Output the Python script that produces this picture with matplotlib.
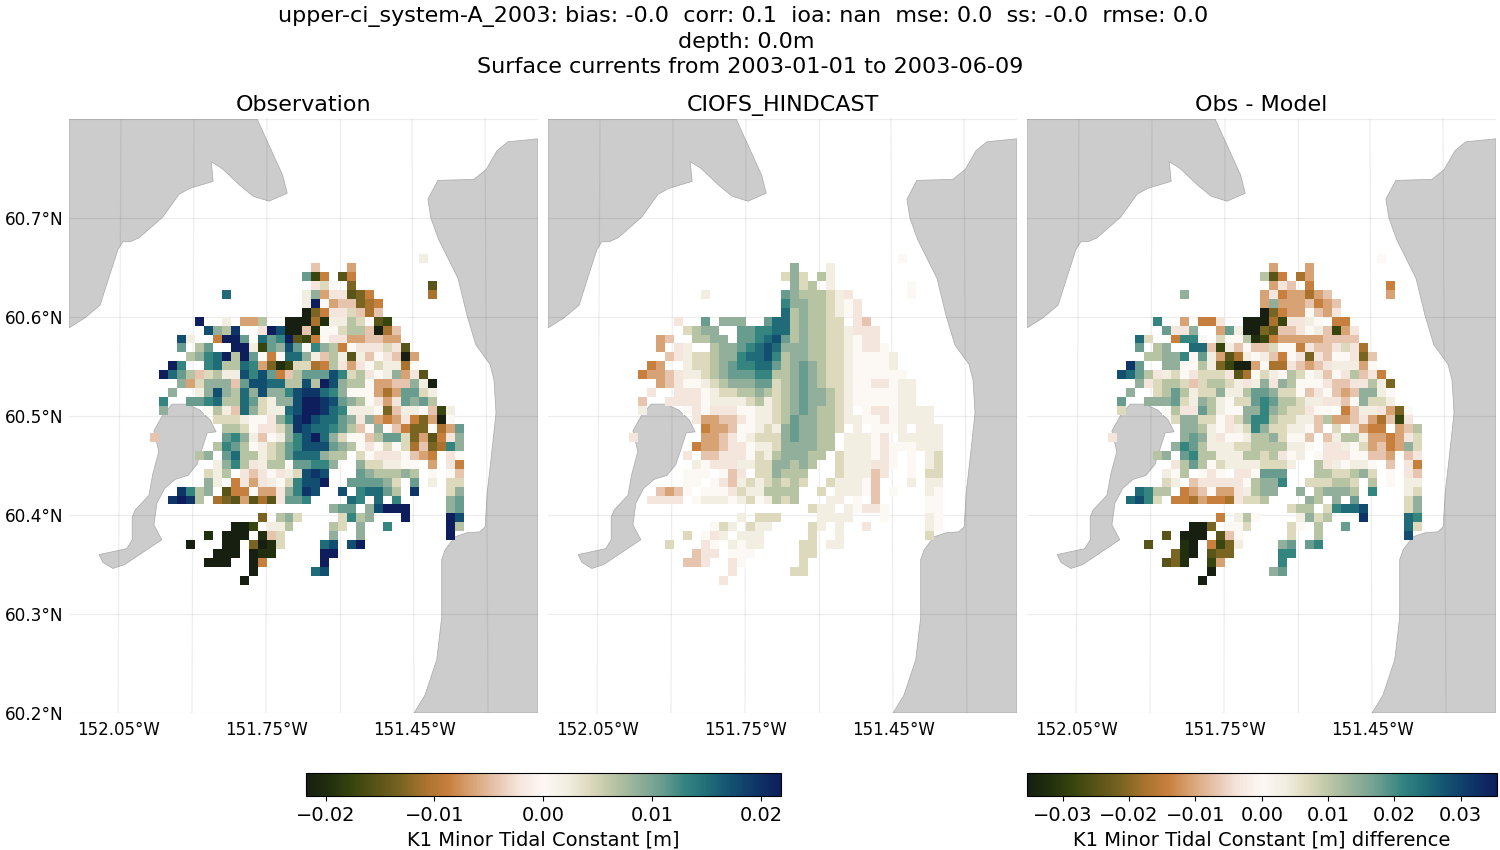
import numpy as np
import matplotlib
matplotlib.use("Agg")
import matplotlib.pyplot as plt
from matplotlib.colors import LinearSegmentedColormap

# grid values, one string per row from north to south: "first column:codes"
# A..J = -10..-1, 0 = 0, a..j = +1..+10 (tenths of the colour limit), . = no data
obs_rows = [
    "30:a", "18:I...H", "17:eCG.DG", "18:Jb0.E........D",
    "8:g........adHJJDEG......F", "17:aj0HIIEFG", "17:AEGJJbIFI",
    "5:j..a.HHc..AAAFBaacb0DC", "6:hdci..JjhAAIB00bccIAFI",
    "3:ha..Gjje.gefjDCG0JJHHIIHH", "3:e.ce..jjaCedhe0fdcG0JJJbJD",
    "4:cdfgjcje0G0ggdaIcaDaI0JIAH", "2:jf..fgccgfHEBCbbFGcJHJ0baaF0",
    "1:jgecIbcaahfheGIceeehfbcJ0adHJD", "3:dHbdddIehhggcchcjhdcc0HHIIdaA",
    "2:d..adhdcgdhddfhiigfd000HFHeeba", "1:f..eefgccgebaddhjjihedc0JHJedec",
    "1:d....0caIgdbaaghjjigfaaa0EIaa0ICa", "7:bbba00JdfijhggedJdHGHJGEHA0",
    "8:ccb0JJbdihggfecI0d0IGEE0FHe", "0:I.......efdaI0adfhjgdb00IceebEHDGJd",
    "7:cfec0abcefhhhedc0J0b0bFIEFfd", "5:cd.egccabcegggdcc.b0JJJ0IHG.J0",
    "7:adfcJacc0eeffd..dbbaa00.H.JG", "6:bac.JIJ0Jabhih...edcccdc.0.0I",
    "6:da.GJHJa0bfhhj..eeeedb.e.a.bb", "3:ifcd.DGG0HHJdfih..h.fggec.i...bd",
    "2:ijic.FEDHDFDJeef....gf0g.f.....de", "20:dee.dhjjj....de",
    "12:E.cdb....bfcd...j....jh", "9:AAC.aac....cb.d..f......jc",
    "6:B.AAA.BIb.....d..d.........j", "4:A...AA.EABb....gh.hj",
    "7:AAA.ABB.....jj", "6:AAA..AG......j", "11:A......gh", "10:A",
]
model_rows = [
    "30:0", "18:d...a", "17:bdb.ca", "18:dbc.a........0",
    "8:a........edcccbaJ......0", "17:fddccba0J", "17:gcdccba0J",
    "5:J..e.ddd..eggcdccbb.JI", "6:bcdd..eeffggcdccbbaJJJ",
    "3:HI..ccdd.eefghecdccbba0JJ", "3:H.Ja..cddefghgdddccbba0JJ0",
    "4:IJabbcddfgghfcddccbba0000a", "2:GH..abbcdeffggecdedcbba0000a",
    "1:GHHIJaabcdeeeffccdedcbba000000", "3:HIJ00abcdddeebcdedcbba00JJ0aa",
    "2:J..JJJ0abbccdcbcdeddcba00000aa", "1:I..JJJJ0aaaabcabcdeddcba00000aa",
    "1:a....0J0JJJ00aabcdedccba.0JJ0aaaa", "7:JHHIIJ0aabceddccbaa00J0aaaa",
    "8:GHHI00abadeddccb.a.000a.aaa", "0:J.......HHIJ0abbbdeddcc.aaa0J.aaaaa",
    "7:GHHIJJ0aabddddcc.aaa0J000aaa", "6:J.IIJJJ0bacdddcc.baaa0J0.0.ab",
    "7:a0JJJaabbddcdc..baaaJJ0.0.ab", "6:000.0IJ.bbdccc...baaaIJ..0.bb",
    "6:00.0JIababcbcb..baaa0I...a.aa", "3:IHI0.000Jbaacccc..b.aaa0I.0...a0",
    "2:JJJJ.0aaa0ab0acbc...aa.0.I.....00", "20:baa.a0JJ0....00",
    "12:a.bbb....aaaa...0....a0", "9:0ba.baa....ba.a..J......a0",
    "6:b.0Ja.aaa.....b..a.........b", "4:b...J0.a0aa....bb.aa",
    "7:IJJ.000.....bb", "6:IIJ..J0......b", "11:J......bb", "10:J",
]
diff_rows = [
    "30:0", "18:H...H", "17:cDG.FH", "18:HJI.G........G",
    "8:d........HJGHHFHI......H", "17:HdHHHIGHI", "17:AEGHH0IHJ",
    "5:f..H.GGJ..AAAFCJJa0.GG", "6:eJJd..HeaAAEDIIJ0aICHJ",
    "3:gb..Gff0.b00cBCGHHHHHIIII", "3:e.cd..ggICaI0IIb00GJIIJbJF",
    "4:ccddf0eaHDFa0aIG0JEJI00JEI", "2:ie..dd00caECAAH0FFJIHIJaaaH0",
    "1:hgecJab0JbbbJDF0ba0cb0aI0JcIJG", "3:dJbccbIbccbaJadJdc000JIIJJcaE",
    "2:d..bcecabbdaaceedbb0IJ0IHIdda0", "1:e..dddebadca0bbefeccbaaJJI0dbba",
    "1:b....0cJJeca00ddfdcbbJ00.GIaaJHE0", "7:bddbb0JbdffcbbaaIcHHIJHFICJ",
    "8:ddca0Jabfdbbaa0I.b.JHGG.HIc", "0:J.......dedaJ00accdb00I.IaccaHHGHJb",
    "7:dfecaaabbccccaa0.JJa0bHIGHdb", "5:cd.efccaaaccbcJ0a.0JJJ00IIH.IJ",
    "7:Jcec0baaaabbba..cJa0aa0.I.JG", "6:a0c.0J0.JJ0eee...ccbbcdb.0.JI",
    "6:ba.IJJJJJ0cddf..bbbccb.c.0.aa", "3:gfcc.GHI0HHJacdd..d.cdddc.f...ab",
    "2:ghfb.GGFHGGFJbbc....dc.d.e.....bd", "20:bcc.bfggh....bd",
    "12:G.ac0....adbc...i....gf", "9:AAE.00b....b0.c..e......gb",
    "6:D.AAA.DI0.....b..c.........h", "4:D...BA.GCEa....de.ef",
    "7:EBA.DEE.....ff", "6:DEB..CH......f", "11:A......de", "10:A",
]

# coastline, lon / lat
nw_lon = [-151.769, -151.717, -151.708, -151.745, -151.777, -151.804, -151.840, -151.862,
          -151.858, -151.905, -151.927, -151.960, -152.008, -152.026, -152.041, -152.051,
          -152.071, -152.087, -152.118, -152.150, -152.150]
nw_lat = [60.800, 60.743, 60.725, 60.717, 60.722, 60.733, 60.750, 60.757,
          60.737, 60.730, 60.724, 60.701, 60.680, 60.676, 60.676, 60.668,
          60.637, 60.612, 60.599, 60.589, 60.800]
east_lon = [-151.200, -151.261, -151.283, -151.305, -151.330, -151.403, -151.423, -151.417,
            -151.401, -151.362, -151.344, -151.326, -151.297, -151.289, -151.285, -151.297,
            -151.303, -151.307, -151.318, -151.344, -151.368, -151.388, -151.395, -151.395,
            -151.405, -151.429, -151.451, -151.200]
east_lat = [60.780, 60.777, 60.768, 60.749, 60.739, 60.738, 60.719, 60.700,
            60.678, 60.639, 60.602, 60.572, 60.552, 60.536, 60.503, 60.448,
            60.422, 60.388, 60.383, 60.382, 60.378, 60.365, 60.355, 60.297,
            60.254, 60.218, 60.200, 60.200]
island_lon = [-151.941, -151.911, -151.885, -151.864, -151.852, -151.870, -151.881, -151.891,
              -151.909, -151.935, -151.956, -151.972, -151.978, -151.962, -152.037, -152.061,
              -152.081, -152.089, -152.033, -152.022, -152.022, -152.016, -151.988, -151.980,
              -151.968, -151.978, -151.960]
island_lat = [60.512, 60.512, 60.506, 60.496, 60.484, 60.483, 60.466, 60.451,
              60.440, 60.436, 60.427, 60.412, 60.390, 60.375, 60.350, 60.346,
              60.352, 60.360, 60.366, 60.375, 60.398, 60.405, 60.420, 60.442,
              60.464, 60.485, 60.501]

# meridians lean a little in the map projection
grid_lon_top = [-152.0447, -151.8968, -151.749, -151.601, -151.4552, -151.3074]
grid_lon_bottom = [-152.0507, -151.9009, -151.751, -151.601, -151.4512, -151.3013]
lat_ticks = [60.2, 60.3, 60.4, 60.5, 60.6, 60.7]
lat_labels = ["60.2°N", "60.3°N", "60.4°N", "60.5°N", "60.6°N", "60.7°N"]
lon_ticks = [-152.05, -151.75, -151.45]
lon_labels = ["152.05°W", "151.75°W", "151.45°W"]

vmax_field = 0.0218
vmax_diff = 0.0354
cb_ticks_field = [-0.02, -0.01, 0.0, 0.01, 0.02]
cb_ticks_diff = [-0.03, -0.02, -0.01, 0.0, 0.01, 0.02, 0.03]

titles = ["Observation", "CIOFS_HINDCAST", "Obs - Model"]
suptitle = ("upper-ci_system-A_2003: bias: -0.0  corr: 0.1  ioa: nan  mse: 0.0  ss: -0.0  rmse: 0.0  \n"
            "depth: 0.0m \n"
            "Surface currents from 2003-01-01 to 2003-06-09")

colors = ["#171f10", "#22300e", "#3a460e", "#5a5418", "#7a6422", "#a8732e", "#c8803f",
          "#d8a475", "#e6c4ad", "#f5e6dd", "#fcf8f5",
          "#f2eee2", "#dcd9bc", "#b8c4a4", "#93b09a", "#6a9e90", "#348480",
          "#1f6c78", "#124f70", "#0f3568", "#0e1e5c"]
cmap = LinearSegmentedColormap.from_list("tidal", colors, N=256)

NEG = "ABCDEFGHIJ"
POS = "abcdefghij"
NROW = 37
NCOL = 35


def read_grid(rows, vmax):
    grid = np.full((NROW, NCOL), np.nan)
    for r, row in enumerate(rows):
        start, codes = row.split(":")
        for i, c in enumerate(codes):
            k = int(start) + i
            if c == ".":
                continue
            if c == "0":
                level = 0
            elif c in NEG:
                level = NEG.index(c) - 10
            else:
                level = POS.index(c) + 1
            grid[r, k] = level / 10 * vmax
    return grid


# cell edges of the model grid
lon_edges = np.linspace(-151.986, -151.986 + NCOL * 0.01817, NCOL + 1)
lat_edges = np.linspace(60.6636, 60.6636 - NROW * 0.009035, NROW + 1)

W, H = 1500, 850
fig = plt.figure(figsize=(W / 100, H / 100), dpi=100)


def px_axes(x0, y0, x1, y1):
    return fig.add_axes([x0 / W, 1 - y1 / H, (x1 - x0) / W, (y1 - y0) / H])


panels = [
    (69, 538, read_grid(obs_rows, vmax_field), vmax_field),
    (548, 1017, read_grid(model_rows, vmax_field), vmax_field),
    (1027, 1496, read_grid(diff_rows, vmax_diff), vmax_diff),
]

meshes = []
for i, (x0, x1, grid, vmax) in enumerate(panels):
    ax = px_axes(x0, 119, x1, 713)
    ax.set_xlim(-152.15, -151.2)
    ax.set_ylim(60.2, 60.8)
    for lon, lat in [(nw_lon, nw_lat), (east_lon, east_lat), (island_lon, island_lat)]:
        ax.fill(lon, lat, facecolor="#cccccc", edgecolor="#a8a8a8", linewidth=0.5, zorder=1)
    for top, bottom in zip(grid_lon_top, grid_lon_bottom):
        ax.plot([bottom, top], [60.2, 60.8], color="k", alpha=0.07, lw=0.9, zorder=2)
    for lat in lat_ticks + [60.8]:
        ax.plot([-152.15, -151.2], [lat, lat], color="k", alpha=0.07, lw=0.9, zorder=2)
    m = ax.pcolormesh(lon_edges, lat_edges, np.ma.masked_invalid(grid), cmap=cmap,
                      vmin=-vmax, vmax=vmax, zorder=3)
    meshes.append(m)
    ax.set_xticks(lon_ticks)
    ax.set_xticklabels(lon_labels, fontsize=12)
    if i == 0:
        ax.set_yticks(lat_ticks)
        ax.set_yticklabels(lat_labels, fontsize=12.2)
    else:
        ax.set_yticks([])
    ax.tick_params(axis="x", length=0, pad=6)
    ax.tick_params(axis="y", length=0, pad=4)
    for label in ax.get_yticklabels():
        label.set_y(label.get_position()[1])
    for s in ax.spines.values():
        s.set_visible(False)
    ax.set_title(titles[i], fontsize=16, pad=6)

cax1 = px_axes(306, 773, 780.5, 796)
cb1 = fig.colorbar(meshes[0], cax=cax1, orientation="horizontal")
cb1.set_ticks(cb_ticks_field)
cb1.ax.tick_params(labelsize=14)
cb1.set_label("K1 Minor Tidal Constant [m]", fontsize=14)

cax2 = px_axes(1027, 773, 1496.5, 796)
cb2 = fig.colorbar(meshes[2], cax=cax2, orientation="horizontal")
cb2.set_ticks(cb_ticks_diff)
cb2.ax.tick_params(labelsize=14)
cb2.set_label("K1 Minor Tidal Constant [m] difference", fontsize=14)

fig.suptitle(suptitle, fontsize=16, x=0.5, y=0.993, va="top", linespacing=1.32)

fig.savefig("out.png", dpi=100)
